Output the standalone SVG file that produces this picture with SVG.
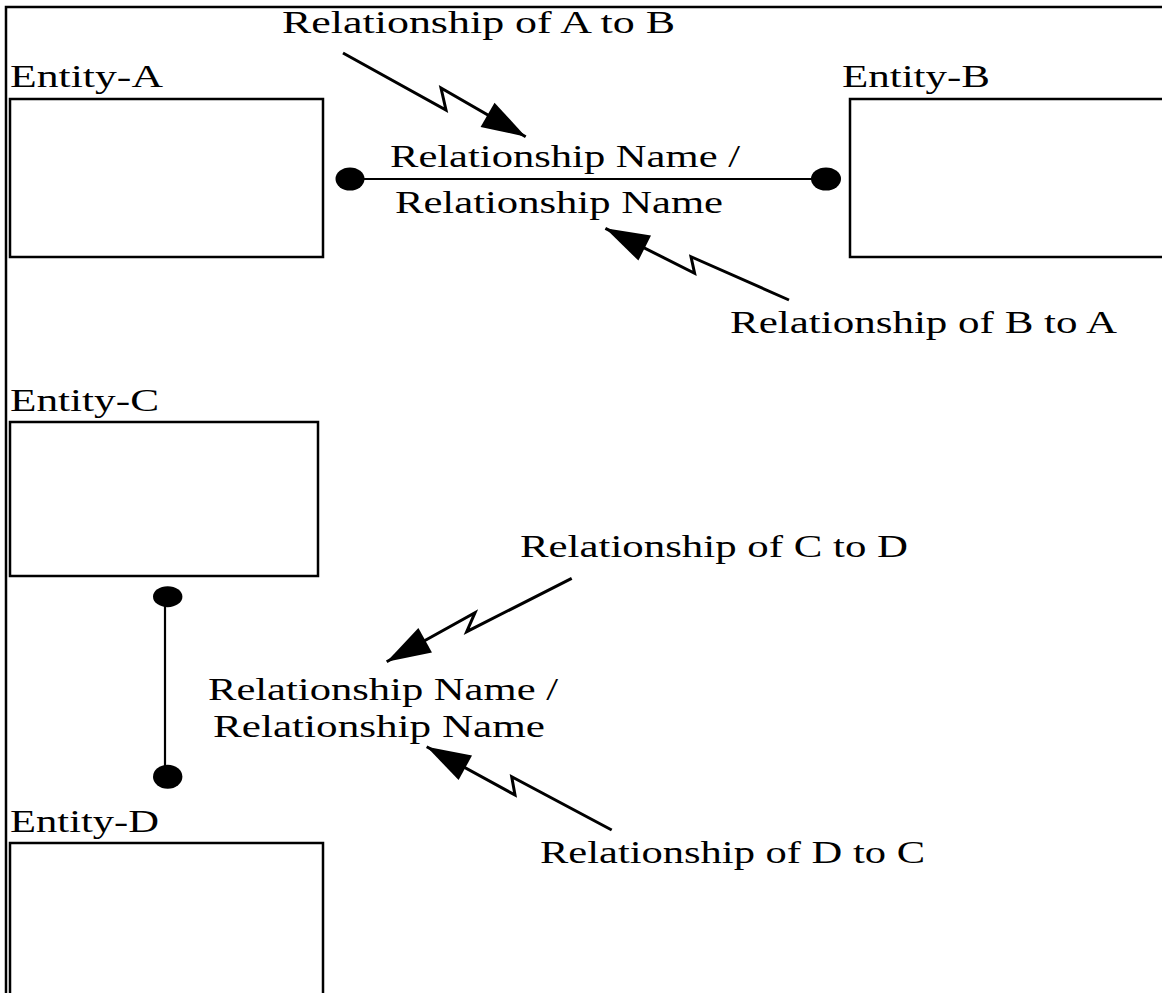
<svg xmlns="http://www.w3.org/2000/svg" width="1162" height="993" viewBox="0 0 1162 993">
  <style>
    .lbl { font-family: "Liberation Serif", "Times New Roman", serif; font-size: 32px; fill: #000; }
    .ent { font-family: "Liberation Serif", "Times New Roman", serif; font-size: 32px; fill: #000; }
    .box { fill: #fff; stroke: #000; stroke-width: 2.5; }
    .rel { fill: none; stroke: #000; stroke-width: 2.2; }
    .bolt { fill: none; stroke: #000; stroke-width: 3; stroke-linejoin: miter; stroke-miterlimit: 10; }
    .dot { fill: #000; }
  </style>
  <defs>
    <marker id="head" markerUnits="userSpaceOnUse" markerWidth="50" markerHeight="34" viewBox="0 -17 46 34" refX="44" refY="0" orient="auto">
      <path d="M0,-14 L44,0 L0,14 z" fill="#000"/>
    </marker>
  </defs>

  <rect width="1162" height="993" fill="#fff"/>

  <!-- page frame -->
  <path d="M6,1000 V7 H1170" fill="none" stroke="#000" stroke-width="2.5"/>

  <!-- entities -->
  <g id="entity-a">
    <text class="ent" x="10" y="87" textLength="153" lengthAdjust="spacingAndGlyphs">Entity-A</text>
    <rect class="box" x="10" y="99" width="313" height="158"/>
  </g>
  <g id="entity-b">
    <text class="ent" x="842" y="87" textLength="148" lengthAdjust="spacingAndGlyphs">Entity-B</text>
    <rect class="box" x="850" y="99" width="330" height="158"/>
  </g>
  <g id="entity-c">
    <text class="ent" x="10" y="411" textLength="149" lengthAdjust="spacingAndGlyphs">Entity-C</text>
    <rect class="box" x="10" y="422" width="308" height="154"/>
  </g>
  <g id="entity-d">
    <text class="ent" x="10" y="832" textLength="149" lengthAdjust="spacingAndGlyphs">Entity-D</text>
    <rect class="box" x="10" y="843" width="313" height="200"/>
  </g>

  <!-- relationships and their reading arrows -->
  <g id="connectors">
    <!-- A / B -->
    <line class="rel" x1="362" y1="179" x2="814" y2="179"/>
    <ellipse class="dot" cx="350" cy="179" rx="14.5" ry="11.5"/>
    <ellipse class="dot" cx="826" cy="179" rx="15" ry="11.5"/>
    <text class="lbl" x="390" y="167" textLength="350" lengthAdjust="spacingAndGlyphs">Relationship Name /</text>
    <text class="lbl" x="395" y="213" textLength="328" lengthAdjust="spacingAndGlyphs">Relationship Name</text>

    <path class="bolt" d="M343,53 L446,110 L441,88 L525.7,136.7" marker-end="url(#head)"/>
    <text class="lbl" x="282" y="33" textLength="393" lengthAdjust="spacingAndGlyphs">Relationship of A to B</text>

    <path class="bolt" d="M789,300 L691,256.7 L694.6,273.3 L605.4,228.3" marker-end="url(#head)"/>
    <text class="lbl" x="730" y="333" textLength="387" lengthAdjust="spacingAndGlyphs">Relationship of B to A</text>

    <!-- C / D -->
    <line class="rel" x1="165" y1="600" x2="165" y2="772"/>
    <ellipse class="dot" cx="167.7" cy="596.7" rx="14.7" ry="10.5"/>
    <ellipse class="dot" cx="167.7" cy="776.7" rx="14.7" ry="12"/>
    <text class="lbl" x="208" y="700" textLength="350" lengthAdjust="spacingAndGlyphs">Relationship Name /</text>
    <text class="lbl" x="213" y="737" textLength="332" lengthAdjust="spacingAndGlyphs">Relationship Name</text>

    <path class="bolt" d="M571.7,578.3 L466.7,631.7 L475,612.7 L386.7,661.7" marker-end="url(#head)"/>
    <text class="lbl" x="520" y="557" textLength="388" lengthAdjust="spacingAndGlyphs">Relationship of C to D</text>

    <path class="bolt" d="M611.7,830 L511.7,776.7 L515,795 L426.7,746.7" marker-end="url(#head)"/>
    <text class="lbl" x="540" y="863" textLength="385" lengthAdjust="spacingAndGlyphs">Relationship of D to C</text>
  </g>
</svg>
